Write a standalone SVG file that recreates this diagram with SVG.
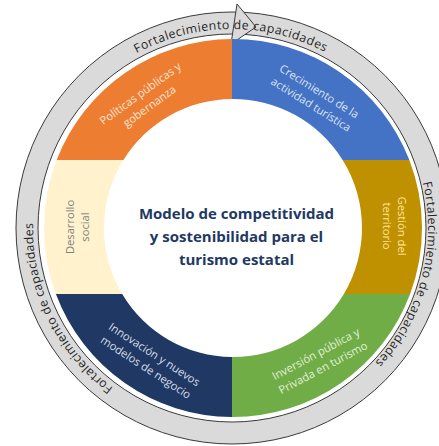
<svg xmlns="http://www.w3.org/2000/svg" width="439" height="446" viewBox="0 0 439 446">
<style>
.ring{fill:#dadada;stroke:#3a3a3a;stroke-width:1;fill-rule:evenodd}
.rt{font-family:"Open Sans","Liberation Sans",sans-serif;font-size:12.3px;fill:#262626}
.seg{font-family:"Open Sans","Liberation Sans",sans-serif;font-size:11.2px;text-anchor:middle}
.title{font-family:"Open Sans","Liberation Sans",sans-serif;font-size:15px;font-weight:700;fill:#1f3864;text-anchor:middle}
</style>
<defs>
<path id="tp" d="M232,427 A199,199 0 1 1 232,29 A199,199 0 1 1 232,427"/>
<path id="tp2" d="M231,425 A197,197 0 1 1 231,31 A197,197 0 1 1 231,425"/>
</defs>
<rect width="439" height="446" fill="#ffffff"/>
<g id="connectors">
<g id="cycle-arrow">
<path class="ring" d="M232,12 A216,216 0 1 1 231.99,12 Z M232,34 A194,194 0 1 0 232.01,34 Z"/>
<path d="M231,44 L237,4 L256,27 Z" fill="#dadada" stroke="#3a3a3a" stroke-width="1" stroke-linejoin="miter"/>
<text class="rt"><textPath href="#tp" startOffset="623.5" text-anchor="middle" textLength="196" lengthAdjust="spacing">Fortalecimiento de capacidades</textPath></text>
<text class="rt"><textPath href="#tp2" startOffset="979.2" text-anchor="middle" textLength="194" lengthAdjust="spacing">Fortalecimiento de capacidades</textPath></text>
<text class="rt"><textPath href="#tp" startOffset="222.3" text-anchor="middle" textLength="190" lengthAdjust="spacing">Fortalecimiento de capacidades</textPath></text>
</g>
</g>
<g id="n-politicas">
<path fill="#ed7d31" d="M232,39 A189,189 0 0 0 56.66,160 L123.38,160 A129,129 0 0 1 232,99 Z"/>
<text class="seg" fill="#fbe5d6" transform="translate(145,100) rotate(-36)"><tspan x="0" y="-4">Políticas públicas y</tspan><tspan x="0" y="11.5">gobernanza</tspan></text>
</g>
<g id="n-crecimiento">
<path fill="#4472c4" d="M232,39 A189,189 0 0 1 409.34,160 L342.62,160 A129,129 0 0 0 232,99 Z"/>
<text class="seg" fill="#dae3f3" transform="translate(315,98) rotate(32)"><tspan x="0" y="-4">Crecimiento de la</tspan><tspan x="0" y="11.5">actividad turística</tspan></text>
</g>
<g id="n-gestion">
<path fill="#bf9000" d="M409.34,160 A189,189 0 0 1 410.1,294 L343.84,294 A129,129 0 0 0 342.62,160 Z"/>
<text class="seg" fill="#ffe699" transform="translate(394,226) rotate(90)"><tspan x="0" y="-4">Gestión del</tspan><tspan x="0" y="11.5">territorio</tspan></text>
</g>
<g id="n-inversion">
<path fill="#70ad47" d="M410.1,294 A189,189 0 0 1 232,417 L232,357 A129,129 0 0 0 343.84,294 Z"/>
<text class="seg" fill="#e2f0d9" transform="translate(319.5,361) rotate(-28)"><tspan x="0" y="-4">Inversión pública y</tspan><tspan x="0" y="11.5">Privada en turismo</tspan></text>
</g>
<g id="n-innovacion">
<path fill="#1f3864" d="M232,417 A189,189 0 0 1 55.9,294 L122.16,294 A129,129 0 0 0 232,357 Z"/>
<text class="seg" fill="#d6dce5" transform="translate(150,361) rotate(33)"><tspan x="0" y="-4">Innovación y nuevos</tspan><tspan x="0" y="11.5">modelos de negocio</tspan></text>
</g>
<g id="n-desarrollo">
<path fill="#fff2cc" d="M55.9,294 A189,189 0 0 1 56.66,160 L123.38,160 A129,129 0 0 0 122.16,294 Z"/>
<text class="seg" fill="#7f7f7f" transform="translate(77.5,227) rotate(-90)"><tspan x="0" y="-4">Desarrollo</tspan><tspan x="0" y="11.5">social</tspan></text>
</g>
<g id="n-centro">
<text class="title"><tspan x="236.5" y="219">Modelo de competitividad</tspan><tspan x="236.5" y="242">y sostenibilidad para el</tspan><tspan x="236.5" y="265">turismo estatal</tspan></text>
</g>
</svg>
